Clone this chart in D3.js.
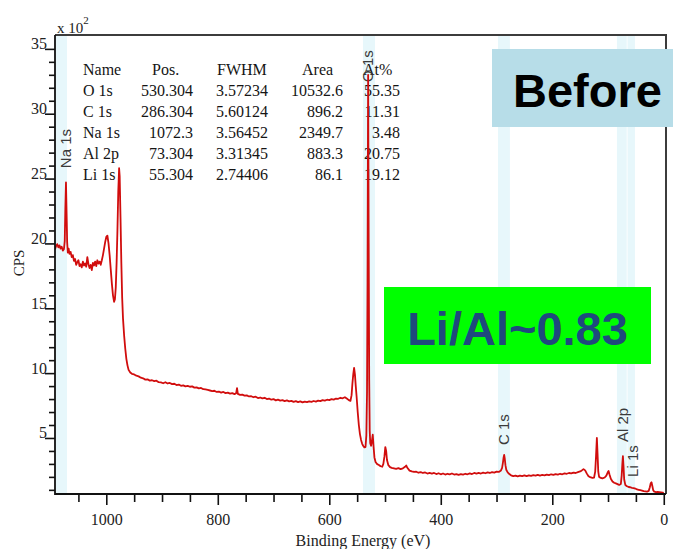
<!DOCTYPE html>
<html>
<head>
<meta charset="utf-8">
<script src="https://cdn.jsdelivr.net/npm/d3@7"></script>
<style>
  html, body { margin: 0; padding: 0; background: #fff; }
  svg { display: block; }
</style>
</head>
<body>
<svg id="chart" width="673" height="549"></svg>
<script>
// XPS survey spectrum: [binding energy (eV), counts per second (x10^2)]
const survey = [
  [1092,19.55],[1090,19.8],[1088,19.95],[1086,19.7],[1084,19.85],[1082,19.6],[1080,19.75],[1078,19.45],
  [1076,19.55],[1074.5,20.2],[1073.5,22.6],[1072.3,24.7],[1071.2,22.3],[1070.2,20.1],[1069,19.3],
  [1067.5,19.6],[1066,19.2],[1064,19.35],[1062,18.95],[1060,19.1],[1058,18.65],[1056,18.8],[1054,18.35],
  [1052,18.55],[1050,18.7],[1048,18.25],[1046,18.4],[1044,18.15],[1042,18.6],[1040,18.3],[1038,18.45],
  [1036,18.2],[1034,18.95],[1032,18.4],[1030,18.1],[1028,18.35],[1026,17.95],[1024,18.5],[1022,18.3],
  [1020,18.6],[1018,18.25],[1016,18.7],[1014,18.45],[1012,18.6],[1010,18.35],[1008,18.7],[1006,19.1],
  [1004,19.6],[1002,20.1],[1000,20.5],[998,20.6],[996,20.0],[994,19.1],[992,18.0],[990,16.9],[988,16.0],
  [986,15.5],[984.5,15.7],[983,16.6],[981.5,18.5],[980,21.0],[978.5,24.0],[977,25.8],[976,25.2],
  [974.5,22.0],[973,18.5],[971.5,15.8],[970,14.2],[968,12.9],[966,11.9],[964,11.1],[962,10.6],
  [960,10.25],[957,10.05],[954,9.95],[950,9.9],[946,9.8],[942,9.75],[938,9.65],[934,9.6],[930,9.5],
  [926,9.52],[922,9.42],[918,9.45],[914,9.38],[910,9.42],[906,9.3],[902,9.28],[898,9.22],[894,9.3],
  [890,9.2],[886,9.24],[882,9.15],[878,9.18],[874,9.08],[870,9.12],[866,9.02],[862,9.06],[858,8.98],
  [854,9.02],[850,8.95],[846,8.98],[842,8.88],[838,8.9],[834,8.82],[830,8.86],[826,8.76],[822,8.74],
  [818,8.7],[814,8.66],[810,8.62],[806,8.64],[802,8.55],[798,8.58],[794,8.5],[790,8.55],[786,8.46],
  [782,8.5],[778,8.42],[774,8.46],[770,8.38],[767,8.45],[765.5,8.85],[764,8.4],[760,8.32],[756,8.34],
  [752,8.26],[748,8.28],[744,8.2],[740,8.22],[736,8.14],[732,8.18],[728,8.08],[724,8.12],[720,8.05],
  [716,8.1],[712,8.0],[708,8.04],[704,7.95],[700,8.0],[696,7.9],[692,7.96],[688,7.88],[684,7.92],
  [680,7.84],[676,7.9],[672,7.82],[668,7.86],[664,7.78],[660,7.84],[656,7.76],[652,7.82],[648,7.74],
  [644,7.8],[640,7.76],[636,7.82],[632,7.78],[628,7.85],[624,7.8],[620,7.88],[616,7.84],[612,7.92],
  [608,7.88],[604,7.95],[600,7.92],[596,8.0],[592,7.96],[588,8.04],[584,8.02],[580,8.1],[576,8.06],
  [572,8.14],[568,8.02],[565,7.92],[562,7.86],[560,8.3],[558.5,9.2],[557,9.9],[555.5,10.4],[554,9.9],
  [552.5,9.0],[551,8.2],[549,7.0],[547,6.0],[545,5.3],[543,4.85],[541,4.55],[539,4.38],[537,4.28],
  [535,4.3],[533.5,5.2],[532.3,8.5],[531.4,17.0],[530.3,33.0],[529.3,20.0],[528.4,9.5],[527.5,5.6],
  [526.5,4.6],[525,4.4],[523.5,4.8],[522,5.25],[520.5,4.3],[519,3.5],[517,3.15],[514,2.98],[511,2.92],
  [508,2.82],[505,2.78],[503,3.0],[501,3.6],[499.5,4.3],[498,4.0],[496.5,3.3],[494,2.9],[491,2.75],
  [488,2.7],[484,2.66],[480,2.62],[476,2.68],[472,2.6],[468,2.66],[464,2.78],[462,2.88],[460,2.7],
  [456,2.48],[452,2.42],[448,2.38],[444,2.4],[440,2.32],[436,2.36],[432,2.3],[428,2.34],[424,2.26],
  [420,2.3],[416,2.25],[412,2.3],[408,2.22],[404,2.28],[400,2.2],[396,2.26],[392,2.18],[388,2.24],
  [384,2.2],[380,2.26],[376,2.18],[372,2.22],[368,2.16],[364,2.22],[360,2.18],[356,2.24],[352,2.2],
  [348,2.27],[344,2.22],[340,2.3],[336,2.25],[332,2.3],[328,2.26],[324,2.33],[320,2.28],[316,2.35],
  [312,2.3],[308,2.37],[304,2.33],[300,2.4],[296,2.38],[292,2.5],[290,2.7],[288.5,3.1],[287.3,3.5],
  [286.3,3.7],[285.2,3.4],[284,2.9],[282.5,2.55],[280,2.35],[277,2.22],[274,2.12],[270,2.06],[266,2.1],
  [262,2.04],[258,2.1],[254,2.06],[250,2.12],[246,2.06],[242,2.12],[238,2.08],[234,2.14],[230,2.1],
  [226,2.16],[222,2.1],[218,2.15],[214,2.12],[210,2.18],[206,2.13],[202,2.2],[198,2.16],[194,2.22],
  [190,2.18],[186,2.24],[182,2.2],[178,2.27],[174,2.24],[170,2.3],[166,2.27],[162,2.33],[158,2.3],
  [154,2.36],[150,2.42],[147,2.5],[144,2.6],[141,2.5],[138,2.25],[135,2.05],[132,1.98],[128,1.92],
  [125,1.95],[123,2.4],[121.5,3.6],[120,5.0],[118.8,3.8],[117.5,2.4],[116,2.0],[113,1.92],[110,1.88],
  [106,1.95],[103,2.1],[100.5,2.35],[99,2.45],[97.5,2.2],[95,1.85],[92,1.65],[89,1.55],[86,1.5],
  [83,1.44],[80,1.38],[77,1.45],[75.5,2.1],[74.3,3.0],[73.3,3.6],[72.3,2.9],[71,1.8],[69,1.38],
  [66,1.28],[63,1.22],[60,1.2],[57,1.16],[54,1.14],[51,1.1],[48,1.03],[45,1.0],[42,0.97],[39,0.94],
  [36,0.9],[33,0.88],[30,0.86],[27,0.92],[25,1.2],[23.5,1.5],[22,1.58],[20.5,1.3],[19,0.98],[17,0.86],
  [14,0.83],[11,0.84],[8,0.82],[5,0.8],[2,0.78],[0,0.76]
];

// Quantification table
const tableHeader = ["Name", "Pos.", "FWHM", "Area", "At%"];
const peakNames = ["O 1s", "C 1s", "Na 1s", "Al 2p", "Li 1s"];
const peakPos   = ["530.304", "286.304", "1072.3", "73.304", "55.304"];
const peakFwhm  = ["3.57234", "5.60124", "3.56452", "3.31345", "2.74406"];
const peakArea  = ["10532.6", "896.2", "2349.7", "883.3", "86.1"];
const peakAt    = ["55.35", "11.31", "3.48", "20.75", "19.12"];

// Peak regions (eV) and their labels
const regionNames  = ["Na 1s", "O 1s", "C 1s", "Al 2p", "Li 1s"];
const regionCenter = [1072.3, 530.304, 286.304, 73.304, 55.304];
const regionLo     = [1070.5, 518, 276, 66.5, 51.7];
const regionHi     = [1090.2, 539.5, 297.4, 84, 65];
const regionLabelAt = [25.8, 32.45, 4.46, 4.69, 2.0];   // label foot, in CPS x10^2

// Axis ticks
const xMajorTicks = [1000, 800, 600, 400, 200, 0];
const xMinorTicks = [1050, 950, 900, 850, 750, 700, 650, 550, 500, 450, 350, 300, 250, 150, 100, 50];
const yMajorTicks = [5, 10, 15, 20, 25, 30, 35];
const yMinorTicks = d3.range(1, 36).filter(v => v % 5 !== 0);

const serif = "'Liberation Serif', 'Times New Roman', serif";
const sans  = "'Liberation Sans', Arial, sans-serif";

const svg = d3.select("#chart");
const L = 55, R = 666, T = 35, B = 494;

const x = d3.scaleLinear().domain([1092, -4]).range([L, R]);
const y = d3.scaleLinear().domain([0.68, 36.07]).range([B, T]);

// peak regions
svg.append("g").selectAll("rect")
  .data(regionNames.map((n, i) => ({ lo: regionLo[i], hi: regionHi[i] })))
  .join("rect")
  .attr("x", d => x(d.hi))
  .attr("width", d => x(d.lo) - x(d.hi))
  .attr("y", T)
  .attr("height", B - T)
  .attr("fill", "#e7f7fb");

// quantification table
const tbl = svg.append("g").attr("font-family", serif).attr("font-size", 16).attr("fill", "#151515");
const headerX = [83, 152, 217, 302, 363];
tableHeader.forEach((h, i) => {
  tbl.append("text").attr("x", headerX[i]).attr("y", 75).text(h);
});
const colEnds = [193, 268, 343, 400];
const cols = [peakPos, peakFwhm, peakArea, peakAt];
peakNames.forEach((n, r) => {
  const yy = 96 + r * 21;
  tbl.append("text").attr("x", 83).attr("y", yy).text(n);
  cols.forEach((c, k) => {
    tbl.append("text").attr("x", colEnds[k]).attr("y", yy).attr("text-anchor", "end").text(c[r]);
  });
});

// region labels
svg.append("g").selectAll("text")
  .data(regionNames.map((n, i) => ({ n, e: regionCenter[i], v: regionLabelAt[i] })))
  .join("text")
  .attr("transform", d => `translate(${x(d.e)},${y(d.v)}) rotate(-90)`)
  .attr("dy", "0.35em")
  .attr("font-family", sans)
  .attr("font-size", 15)
  .attr("fill", "#3a3a3a")
  .text(d => d.n);

// spectrum
svg.append("clipPath").attr("id", "plotArea")
  .append("rect").attr("x", L).attr("y", T).attr("width", R - L).attr("height", B - T);
svg.append("path")
  .datum(survey)
  .attr("clip-path", "url(#plotArea)")
  .attr("fill", "none")
  .attr("stroke", "#d10d0d")
  .attr("stroke-width", 1.8)
  .attr("stroke-linejoin", "round")
  .attr("d", d3.line().x(d => x(d[0])).y(d => y(d[1])));

// y axis
const yMinorG = svg.append("g").attr("transform", `translate(${L},0)`)
  .call(d3.axisLeft(y).tickValues(yMinorTicks).tickSize(6).tickSizeOuter(0).tickFormat(""));
yMinorG.select(".domain").remove();
const yMajorG = svg.append("g").attr("transform", `translate(${L},0)`)
  .call(d3.axisLeft(y).tickValues(yMajorTicks).tickSize(10).tickSizeOuter(0).tickFormat(d3.format("d")));
yMajorG.select(".domain").remove();
yMajorG.selectAll("text").attr("x", -8).attr("dy", "0").attr("font-family", serif)
  .attr("font-size", 16).attr("fill", "#222");

// x axis
const xMinorG = svg.append("g").attr("transform", `translate(0,${B})`)
  .call(d3.axisBottom(x).tickValues(xMinorTicks).tickSize(8).tickSizeOuter(0).tickFormat(""));
xMinorG.select(".domain").remove();
const xMajorG = svg.append("g").attr("transform", `translate(0,${B})`)
  .call(d3.axisBottom(x).tickValues(xMajorTicks).tickSize(11).tickSizeOuter(0).tickFormat(d3.format("d")));
xMajorG.select(".domain").remove();
xMajorG.selectAll("text").attr("y", 20).attr("font-family", serif)
  .attr("font-size", 16).attr("fill", "#222");
svg.selectAll(".tick line").attr("stroke", "#111").attr("stroke-width", 1.6);

// frame
svg.append("path")
  .attr("d", `M${L},${T}H${R}V${B}`)
  .attr("fill", "none").attr("stroke", "#3c3c3c").attr("stroke-width", 2);
svg.append("path")
  .attr("d", `M${L},${T}V${B}H${R}`)
  .attr("fill", "none").attr("stroke", "#111").attr("stroke-width", 1.8);

// axis titles
const sc = svg.append("text").attr("x", 57).attr("y", 33)
  .attr("font-family", serif).attr("font-size", 15).attr("fill", "#222");
sc.append("tspan").text("x 10");
sc.append("tspan").attr("dy", -9).attr("font-size", 11).text("2");

svg.append("text")
  .attr("transform", "translate(19,263) rotate(-90)")
  .attr("text-anchor", "middle").attr("dy", "0.35em")
  .attr("font-family", serif).attr("font-size", 15).attr("fill", "#222")
  .text("CPS");

svg.append("text")
  .attr("x", 363).attr("y", 546)
  .attr("text-anchor", "middle")
  .attr("font-family", serif).attr("font-size", 16).attr("fill", "#222")
  .text("Binding Energy (eV)");

// annotation boxes
svg.append("rect").attr("x", 492).attr("y", 49).attr("width", 181).attr("height", 78).attr("fill", "#b7dde8");
svg.append("text").attr("x", 513).attr("y", 107)
  .attr("font-family", sans).attr("font-weight", "bold").attr("font-size", 47).attr("fill", "#000")
  .text("Before");

svg.append("rect").attr("x", 384).attr("y", 287).attr("width", 267).attr("height", 77).attr("fill", "#00ff00");
svg.append("text").attr("x", 517.5).attr("y", 345)
  .attr("text-anchor", "middle")
  .attr("font-family", sans).attr("font-weight", "bold").attr("font-size", 47).attr("fill", "#1f497d")
  .text("Li/Al~0.83");
</script>
</body>
</html>
